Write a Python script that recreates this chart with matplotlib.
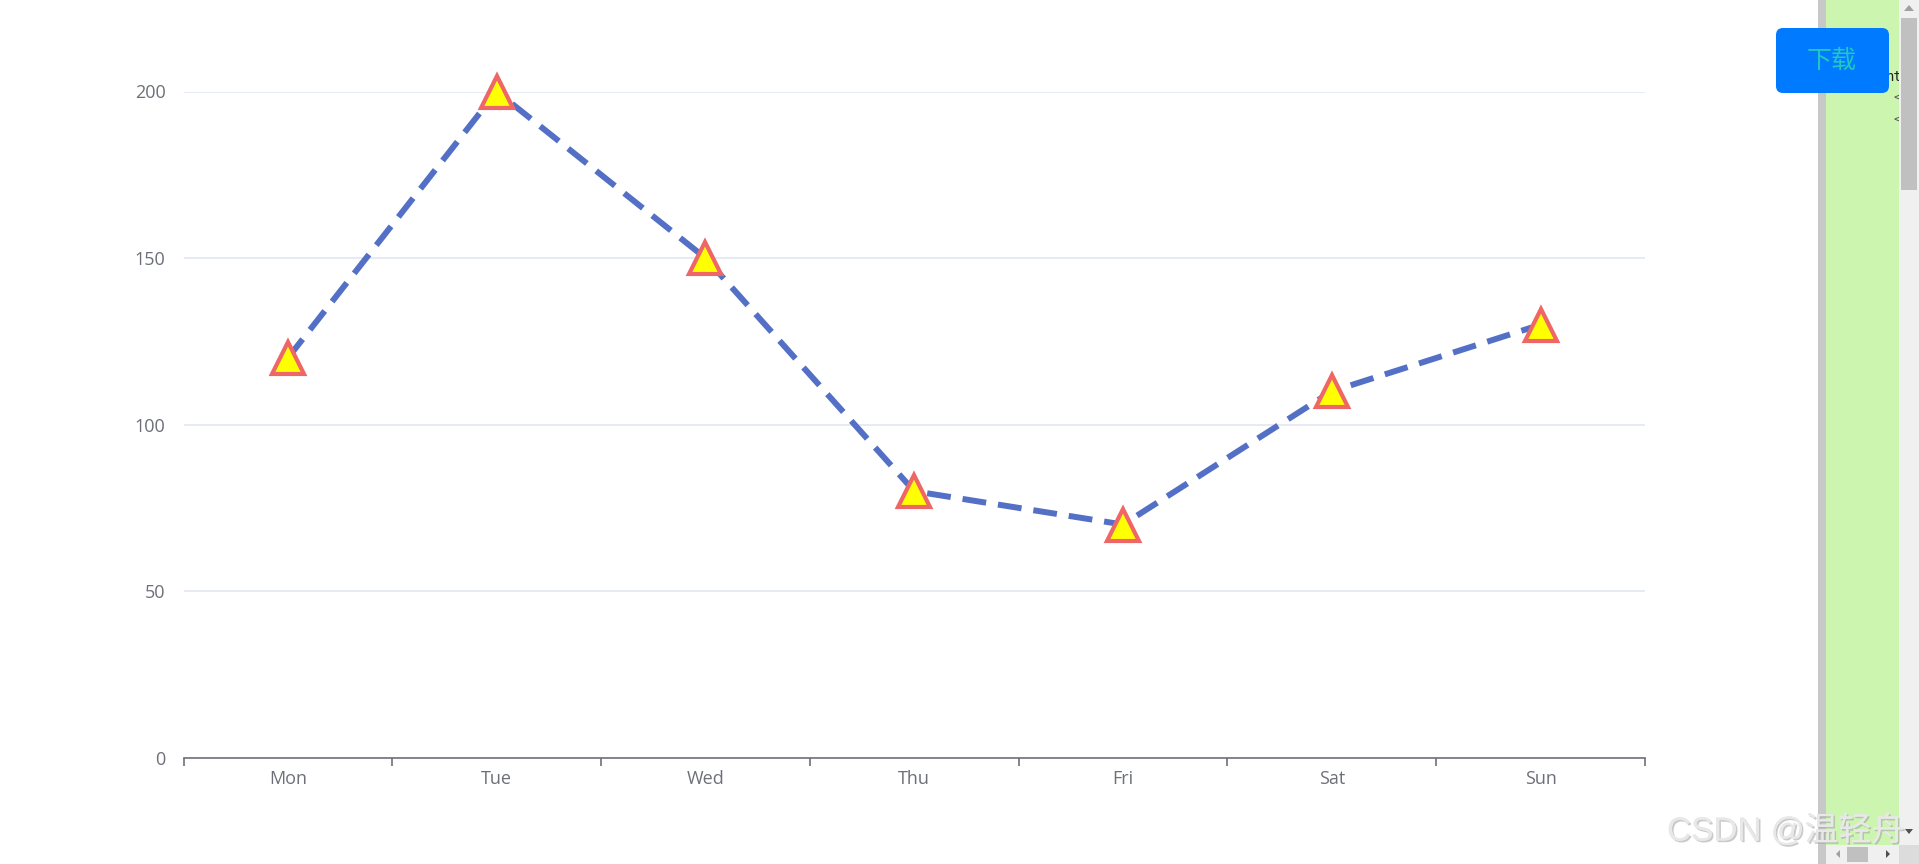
"""
Line chart: dashed line with triangle markers (weekly values)
"""

import matplotlib
matplotlib.use("Agg")
import matplotlib.pyplot as plt
from matplotlib.patches import Rectangle, FancyBboxPatch, Polygon
import matplotlib.patheffects as pe

plt.rcParams['font.family'] = ['Open Sans', 'Noto Sans CJK SC', 'DejaVu Sans']

# Dados
days = ['Mon', 'Tue', 'Wed', 'Thu', 'Fri', 'Sat', 'Sun']
values = [120, 200, 150, 80, 70, 110, 130]
y_ticks = [0, 50, 100, 150, 200]

W, H = 1919, 864
fig = plt.figure(figsize=(W / 100, H / 100), dpi=100)
fig.patch.set_facecolor('white')

# Área do gráfico
left, right = 183.5 / W, 1645 / W
bottom, top = 1 - 757.7 / H, 1 - 91.5 / H
ax = fig.add_axes([left, bottom, right - left, top - bottom])

x = list(range(len(days)))
ax.plot(x, values, color='#5470c6', lw=4.3, dashes=(4, 2), solid_capstyle='butt',
        dash_capstyle='butt', zorder=3, clip_on=False)
ax.plot(x, values, ls='none', marker='^', ms=23, mfc='#ffff00', mec='#ee6666',
        mew=3, zorder=4, clip_on=False)

ax.set_xlim(-0.5, len(days) - 0.5)
ax.set_ylim(0, 200)

# Eixo y
ax.set_yticks(y_ticks)
ax.tick_params(axis='y', length=0, pad=13, labelsize=13, labelcolor='#6e7079')
ax.yaxis.grid(True, color='#e0e6f1', lw=1.2)
ax.set_axisbelow(True)

# Eixo x: ticks nos limites, rótulos no centro
ax.set_xticks([i - 0.5 for i in range(len(days) + 1)])
ax.set_xticklabels([])
ax.set_xticks(x, minor=True)
ax.set_xticklabels(days, minor=True)
ax.tick_params(axis='x', which='major', length=6, width=1.2, color='#6e7079', direction='out')
ax.tick_params(axis='x', which='minor', length=0, pad=9, labelsize=13, labelcolor='#6e7079')

for s in ['top', 'right', 'left']:
    ax.spines[s].set_visible(False)
ax.spines['bottom'].set_color('#6e7079')
ax.spines['bottom'].set_linewidth(1.2)

# Elementos da página (botão, barras laterais, marca d'água)
ov = fig.add_axes([0, 0, 1, 1], zorder=10)
ov.set_xlim(0, W)
ov.set_ylim(H, 0)
ov.axis('off')
ov.patch.set_alpha(0)

ov.add_patch(Rectangle((1818, 0), 8, H, color='#c8c8c8', lw=0))
ov.add_patch(Rectangle((1826, 0), 73, 845, color='#ccf5b0', lw=0))
ov.text(1886, 77, 'nt', fontsize=10, color='#222222', va='center', ha='left', family='DejaVu Sans Mono')
ov.text(1894, 98, '<', fontsize=9, color='#555555', va='center', ha='left', family='DejaVu Sans Mono')
ov.text(1894, 120, '<', fontsize=9, color='#555555', va='center', ha='left', family='DejaVu Sans Mono')

# barra de rolagem vertical
ov.add_patch(Rectangle((1899, 0), 20, H, color='#f0f0f0', lw=0, zorder=5))
ov.add_patch(Rectangle((1901, 18), 16, 172, color='#c0c0c0', lw=0, zorder=6))
ov.add_patch(Polygon([[1904, 11], [1914, 11], [1909, 5]], color='#a0a0a0', lw=0, zorder=6))
ov.add_patch(Polygon([[1905, 829], [1913, 829], [1909, 834]], color='#505050', lw=0, zorder=6))
# barra de rolagem horizontal
ov.add_patch(Rectangle((1826, 845), 73, 19, color='#f0f0f0', lw=0, zorder=5))
ov.add_patch(Rectangle((1847, 847), 21, 15, color='#c0c0c0', lw=0, zorder=6))
ov.add_patch(Polygon([[1840, 850], [1840, 858], [1836, 854]], color='#a0a0a0', lw=0, zorder=6))
ov.add_patch(Polygon([[1886, 850], [1886, 858], [1890, 854]], color='#505050', lw=0, zorder=6))
ov.add_patch(Rectangle((1899, 845), 20, 19, color='#dcdcdc', lw=0, zorder=6))

# botão
ov.add_patch(FancyBboxPatch((1776, 28), 113, 65, boxstyle='round,pad=0,rounding_size=7',
                            fc='#007bff', ec='none', zorder=7))
ov.text(1832, 61, '下载', fontsize=18, color='#20c9c0', ha='center', va='center', zorder=8,
        family='Noto Sans CJK SC')

# marca d'água
ov.text(1786, 831, 'CSDN @温轻舟', fontsize=24, color='#e8e8e8', ha='center', va='center',
        zorder=9, family=['Liberation Sans', 'Noto Sans CJK SC'],
        path_effects=[pe.withSimplePatchShadow(offset=(1.2, -1.2), shadow_rgbFace='#a0a0a0', alpha=0.55),
                      pe.Normal()])

fig.savefig('out.png', dpi=100)
